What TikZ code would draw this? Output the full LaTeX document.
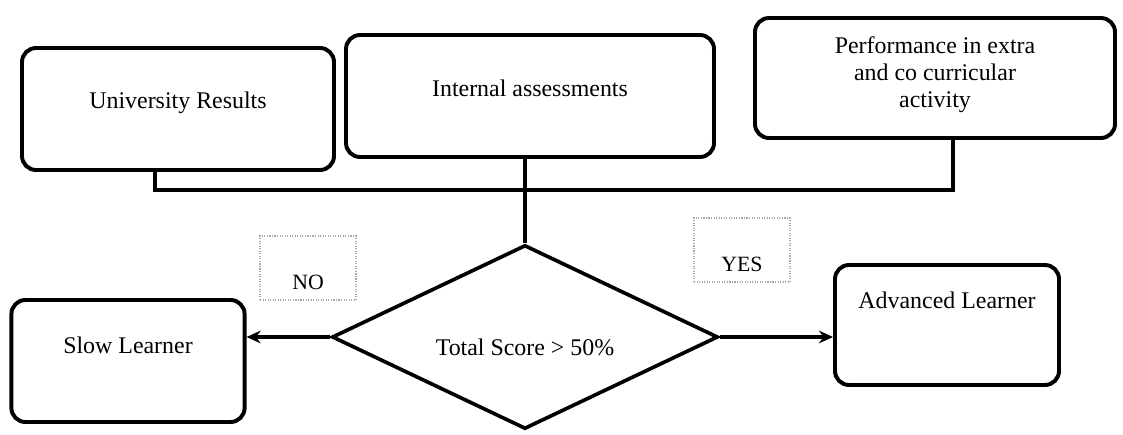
\documentclass[tikz,border=0pt]{standalone}
\usepackage{fontspec}
\setmainfont{Liberation Serif}
\usetikzlibrary{shapes.geometric,arrows.meta,positioning}

\begin{document}
\begin{tikzpicture}[x=0.25mm, y=-0.25mm,
  %% ── Node styles ──────────────────────────────────────────────────────────
  %% crit   : input criteria boxes (top row)
  %% result : learner category boxes (bottom row)
  %% decide : the score check
  %% tag    : thin NO / YES label boxes
  crit/.style={draw=black, line width=2.8pt, rounded corners=10pt,
               minimum height=3.05cm, align=center,
               font=\fontsize{17}{19}\selectfont},
  result/.style={draw=black, line width=2.8pt, rounded corners=10pt,
                 minimum width=5.7cm, minimum height=3.0cm, align=center,
                 font=\fontsize{17}{19}\selectfont},
  decide/.style={draw=black, diamond, aspect=2, line width=2.6pt, inner sep=0pt,
                 minimum width=9.65cm, minimum height=4.6cm,
                 font=\fontsize{17}{19}\selectfont},
  tag/.style={draw=gray!70, densely dotted, line width=0.8pt,
              minimum width=2.4cm, minimum height=1.6cm, text height=1.1cm,
              font=\fontsize{15.5}{18}\selectfont},
  %% ── Line styles ──────────────────────────────────────────────────────────
  conn/.style={line width=2.4pt},
  arr/.style={-{Stealth[length=10pt, width=9pt]}, line width=2.6pt}
]
\useasboundingbox (0,0) rectangle (1123,435);

%% ── ROW 1  Criteria  (y = 95..109 px) ───────────────────────────────────────
\node[crit, minimum width=7.8cm, text depth=0.45cm] (univ)  at (178, 109) {University Results};
\node[crit, minimum width=9.2cm, text depth=0.4cm]  (inter) at (530,  96) {Internal assessments};
\node[crit, minimum width=9.0cm, minimum height=3.0cm, text depth=0.3cm]
  (extra) at (935, 78) {Performance in extra\\and co curricular\\activity};

%% ── ROW 2  Decision ─────────────────────────────────────────────────────────
\node[decide, text height=0.95cm] (score) at (525, 337) {Total Score > 50\%};

\node[tag] (no)  at (308, 268) {NO};
\node[tag] (yes) at (742, 250) {YES};

%% ── ROW 3  Outcome ──────────────────────────────────────────────────────────
\node[result, minimum width=5.83cm, minimum height=3.05cm, text depth=0.8cm]
  (slow) at (128, 361) {Slow Learner};
\node[result, minimum width=5.6cm, text depth=1.25cm]
  (adv) at (947, 325) {Advanced Learner};

%% ── Collector line under the criteria ───────────────────────────────────────
\coordinate (busL) at (155, 190);
\coordinate (busR) at (953, 190);
\draw[conn] (univ.south -| busL) -- (busL) -- (busR) -- (busR |- extra.south);
\draw[conn] (score.north) -- (score.north |- inter.south);

%% ── Arrows: decision → outcome ──────────────────────────────────────────────
\draw[arr] (score.west) -- (score.west -| slow.east);
\draw[arr] (score.east) -- (score.east -| adv.west);

\end{tikzpicture}
\end{document}
